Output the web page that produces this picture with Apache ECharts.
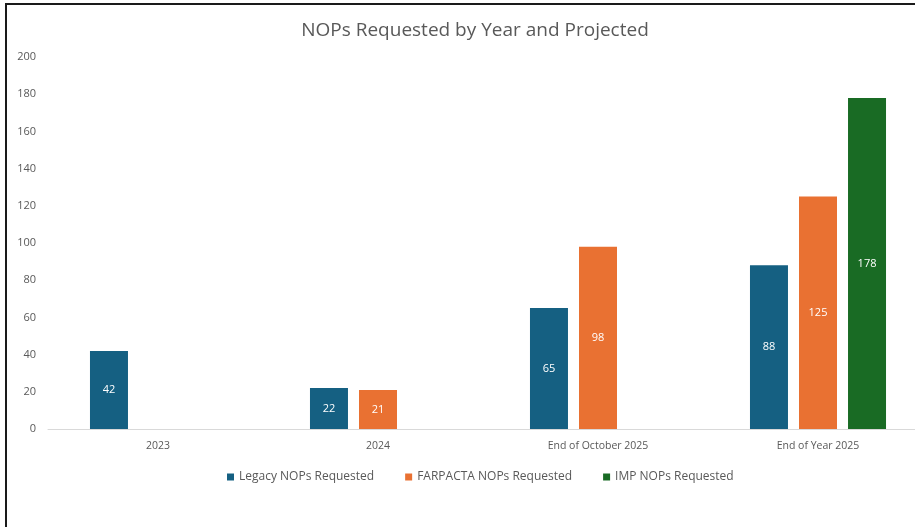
<!DOCTYPE html>
<html>
<head>
<meta charset="utf-8">
<script src="https://cdn.jsdelivr.net/npm/echarts@6/dist/echarts.min.js"></script>
<style>
html,body{margin:0;padding:0;background:#fff;overflow:hidden;width:915px;height:527px;}
#chart{width:940px;height:527px;position:absolute;left:0;top:0;}
#frame{position:absolute;left:5px;top:3px;width:930px;height:540px;border-top:2px solid #1a1a1a;border-left:2px solid #1a1a1a;pointer-events:none;}
</style>
</head>
<body>
<div id="chart"></div>
<div id="frame"></div>
<script>
const categories = ["2023", "2024", "End of October 2025", "End of Year 2025"];
const legacyValues = [42, 22, 65, 88];
const farpactaValues = [null, 21, 98, 125];
const impValues = [null, null, null, 178];
const seriesNames = ["Legacy NOPs Requested", "FARPACTA NOPs Requested", "IMP NOPs Requested"];
const colors = ["#156082", "#E97132", "#196B24"];
const yTicks = {min: 0, max: 200, interval: 20};

const font = "Open Sans";
const chart = echarts.init(document.getElementById('chart'));
const label = {
  show: true, position: 'inside', color: '#ffffff', fontSize: 11, fontFamily: font,
  formatter: p => (p.value == null ? '' : p.value)
};
const mk = (name, data, color) => ({
  name, type: 'bar', data, barWidth: 38, barGap: '29%',
  itemStyle: {color}, label
});
chart.setOption({
  animation: false,
  backgroundColor: '#ffffff',
  title: {
    text: "NOPs Requested by Year and Projected",
    left: 470, textAlign: 'center', top: 16,
    textStyle: {fontFamily: font, fontSize: 19, fontWeight: 'normal', color: '#595959'}
  },
  legend: {
    data: seriesNames, left: 222, top: 466,
    itemWidth: 7, itemHeight: 7, itemGap: 31, icon: 'rect',
    textStyle: {fontFamily: font, fontSize: 12, color: '#595959'}
  },
  grid: {left: 48, top: 57, right: 12, bottom: 98, containLabel: false},
  xAxis: {
    type: 'category', data: categories,
    axisLine: {lineStyle: {color: '#d9d9d9'}},
    axisTick: {show: false},
    axisLabel: {fontFamily: font, fontSize: 10.5, color: '#595959', margin: 12}
  },
  yAxis: {
    type: 'value', min: yTicks.min, max: yTicks.max, interval: yTicks.interval,
    splitLine: {show: false},
    axisLine: {show: false}, axisTick: {show: false},
    axisLabel: {fontFamily: font, fontSize: 11, color: '#595959', margin: 12}
  },
  series: [
    mk(seriesNames[0], legacyValues, colors[0]),
    mk(seriesNames[1], farpactaValues, colors[1]),
    mk(seriesNames[2], impValues, colors[2])
  ]
});
</script>
</body>
</html>
